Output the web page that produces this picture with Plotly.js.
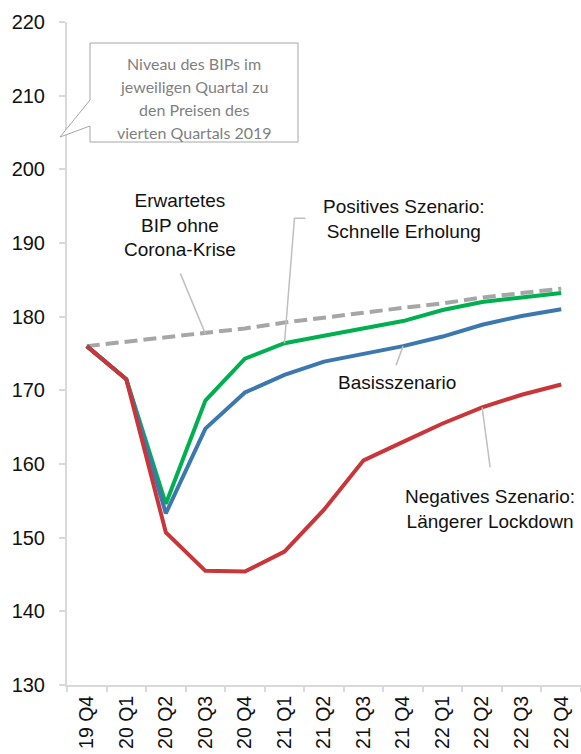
<!DOCTYPE html>
<html>
<head>
<meta charset="utf-8">
<script src="https://cdn.plot.ly/plotly-3.0.1.min.js"></script>
<style>html,body{margin:0;padding:0;background:#fff;}#chart{width:581px;height:754px;}</style>
</head>
<body>
<div id="chart"></div>
<script>
const quarters = ["19 Q4","20 Q1","20 Q2","20 Q3","20 Q4","21 Q1","21 Q2","21 Q3","21 Q4","22 Q1","22 Q2","22 Q3","22 Q4"];
const ohneKrise = [176.0, 176.6, 177.2, 177.7, 178.4, 179.2, 179.9, 180.5, 181.2, 181.8, 182.6, 183.2, 183.8];
const positiv   = [176.0, 171.5, 154.6, 168.6, 174.3, 176.4, 177.4, 178.4, 179.4, 180.9, 182.0, 182.6, 183.2];
const basis     = [176.0, 171.5, 153.3, 164.8, 169.7, 172.1, 173.9, 174.9, 176.0, 177.3, 178.9, 180.1, 181.0];
const negativ   = [176.0, 171.5, 150.7, 145.5, 145.4, 148.1, 153.8, 160.5, 163.0, 165.5, 167.7, 169.4, 170.8];

const W = 581, H = 754, L = 67, R = 0, T = 22, B = 69;
const PW = W - L - R, PH = H - T - B;
const px = x => (x - L) / PW;
const py = y => (H - B - y) / PH;

const traces = [
  {x: quarters, y: ohneKrise, mode: 'lines', line: {color: '#a6a6a6', width: 4, dash: '13px,6px'}},
  {x: quarters, y: positiv, mode: 'lines', line: {color: '#00b050', width: 4}},
  {x: quarters, y: basis, mode: 'lines', line: {color: '#3b78ad', width: 4}},
  {x: quarters, y: negativ, mode: 'lines', line: {color: '#c8363a', width: 4}}
];

const txtFont = {family: 'Liberation Sans, Arial, sans-serif', size: 19, color: '#111'};
const boxFont = {family: 'Lato, sans-serif', size: 16, color: '#7f7f7f'};

function label(text, x, y) {
  return {xref: 'paper', yref: 'paper', x: px(x), y: py(y), text: text, showarrow: false,
          xanchor: 'center', yanchor: 'middle', align: 'center', font: txtFont};
}
const boxLines = ["Niveau des BIPs im", "jeweiligen Quartal zu", "den Preisen des", "vierten Quartals 2019"];
const boxY = [63, 87, 110, 133];

const annotations = [
  label("Erwartetes<br>BIP ohne<br>Corona-Krise", 180, 225),
  label("Positives Szenario:<br>Schnelle Erholung", 403.5, 219),
  label("Basisszenario", 397, 382),
  label("Negatives Szenario:<br>Längerer Lockdown", 490, 509)
].concat(boxLines.map((t, i) => ({xref: 'paper', yref: 'paper', x: px(194), y: py(boxY[i]), text: t,
  showarrow: false, xanchor: 'center', yanchor: 'middle', font: boxFont})));

function leader(xcat, yval, path) {
  return {type: 'path', xref: 'x', yref: 'y', xsizemode: 'pixel', ysizemode: 'pixel',
          xanchor: xcat, yanchor: yval, path: path, line: {color: '#bfbfbf', width: 1.5}, layer: 'above'};
}

const shapes = [
  {type: 'path', xref: 'paper', yref: 'paper', xsizemode: 'pixel', ysizemode: 'pixel', xanchor: 0, yanchor: 1,
   path: 'M23,-21 L231,-21 L231,-120 L23,-120 L23,-104 L-7,-115 L23,-78 Z',
   fillcolor: '#ffffff', line: {color: '#a6a6a6', width: 1}, layer: 'above'},
  leader(quarters[3], ohneKrise[3], 'M0,0 L-25,60'),
  leader(quarters[5], positiv[5], 'M0,0 L10,125 L21,125'),
  leader(quarters[8], basis[8], 'M0,0 L-7,-19'),
  leader(quarters[10], negativ[10], 'M0,0 L8,-60')
];

const layout = {
  width: W, height: H,
  margin: {l: L, r: R, t: T, b: B, pad: 0},
  paper_bgcolor: '#ffffff', plot_bgcolor: '#ffffff',
  showlegend: false,
  xaxis: {
    type: 'category', range: [-0.5, 12.5], showgrid: false, zeroline: false,
    showline: true, linecolor: '#d9d9d9', linewidth: 2,
    ticks: 'outside', tickson: 'boundaries', ticklen: 5, tickcolor: '#d9d9d9', tickwidth: 2,
    tickangle: -90, tickfont: {family: 'Liberation Sans, Arial, sans-serif', size: 19.5, color: '#111'},
    ticklabelstandoff: 1
  },
  yaxis: {
    range: [130, 220], dtick: 10, showgrid: false, zeroline: false,
    showline: true, linecolor: '#d9d9d9', linewidth: 2,
    ticks: 'outside', ticklen: 6, tickcolor: '#d9d9d9', tickwidth: 2,
    tickfont: {family: 'Liberation Sans, Arial, sans-serif', size: 20, color: '#111'},
    ticklabelstandoff: 10
  },
  annotations: annotations,
  shapes: shapes
};

Plotly.newPlot('chart', traces, layout, {displayModeBar: false, staticPlot: true});
</script>
</body>
</html>
